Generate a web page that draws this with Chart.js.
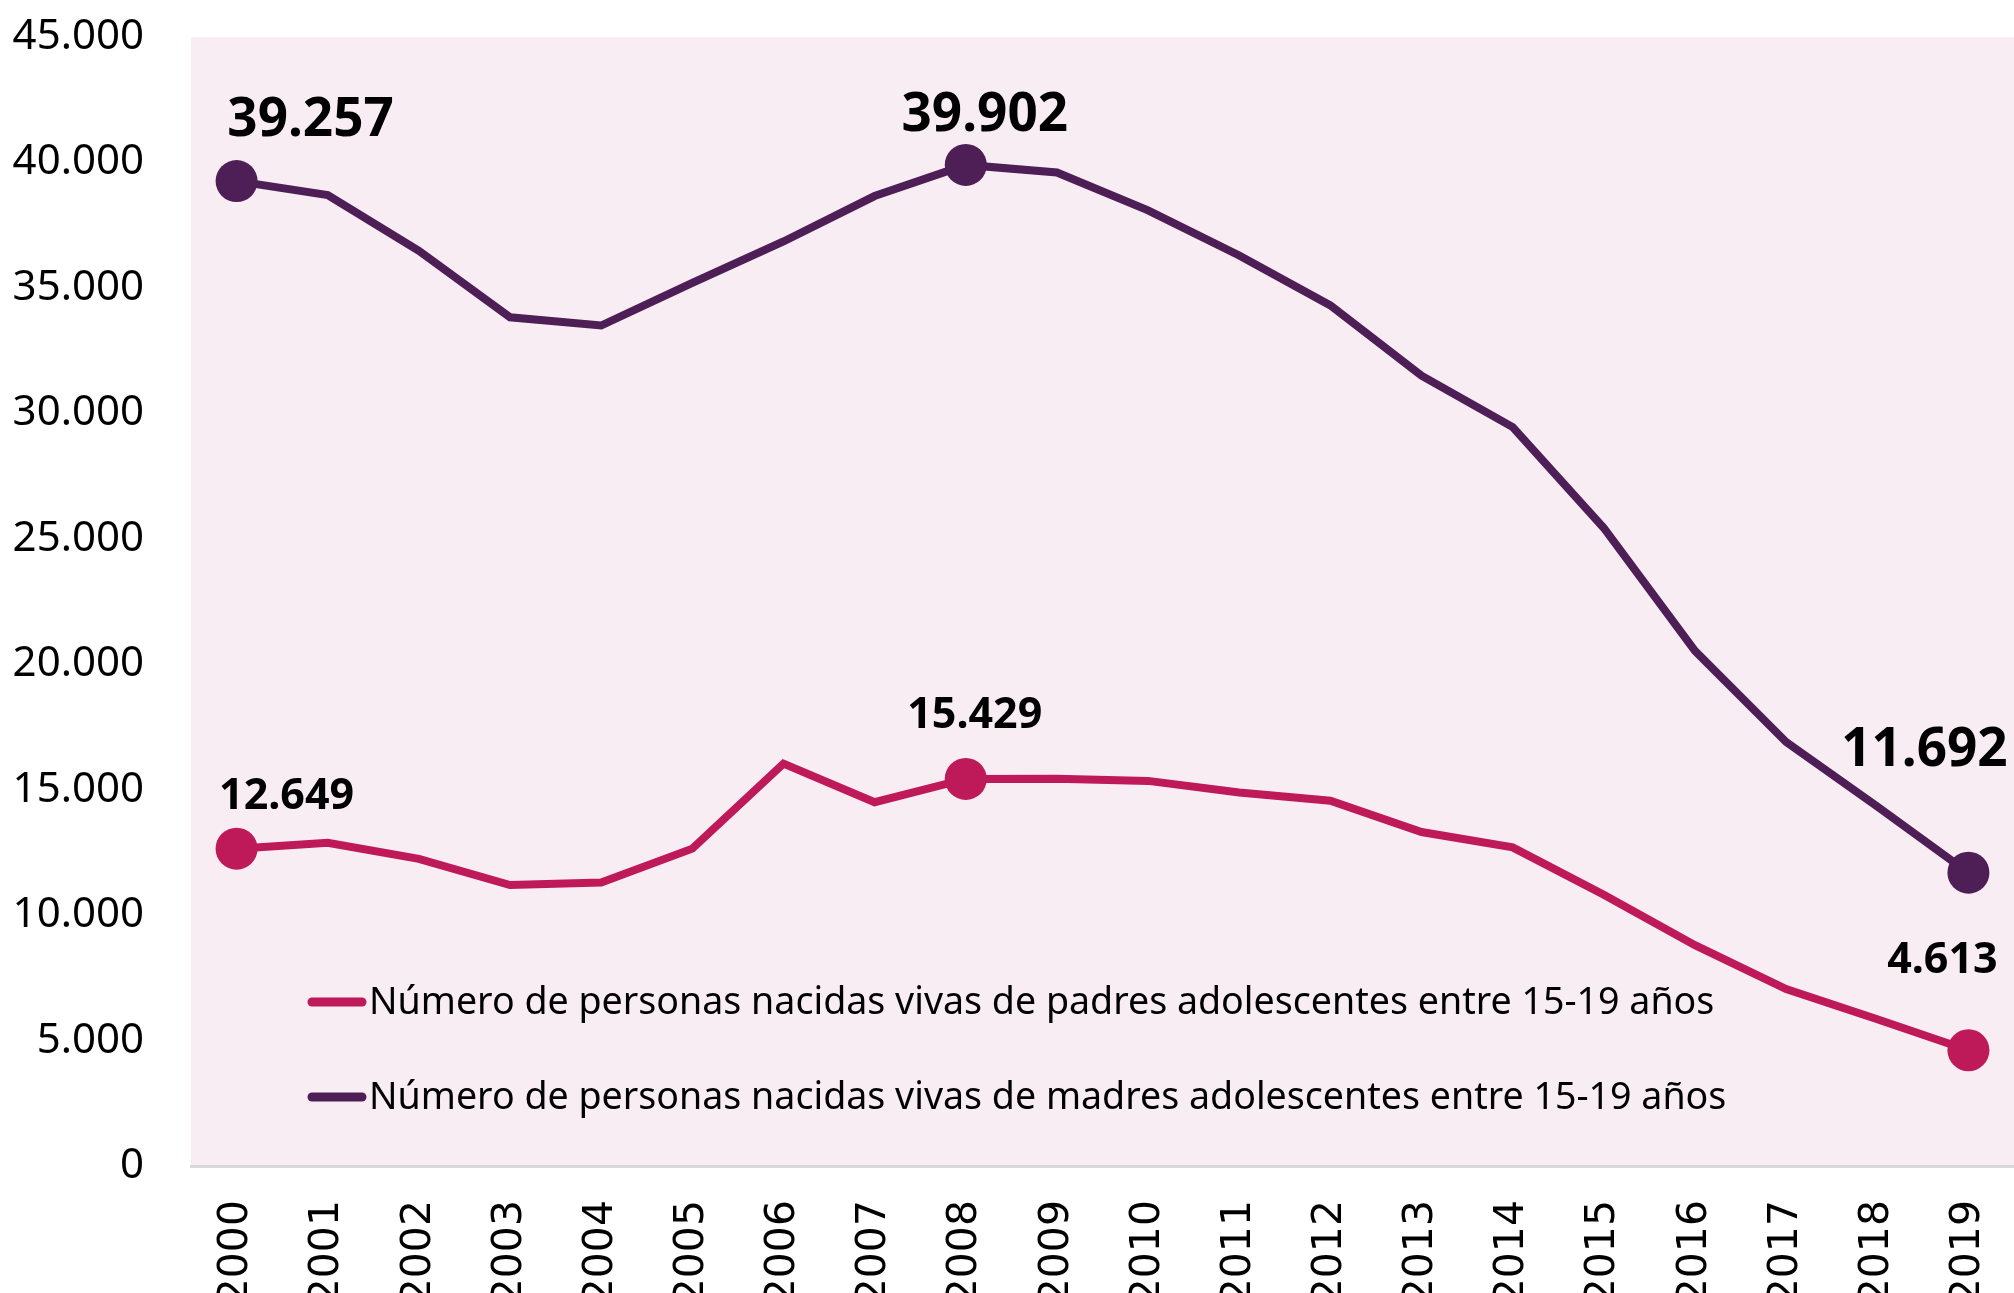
<!DOCTYPE html>
<html>
<head>
<meta charset="utf-8">
<script src="https://cdn.jsdelivr.net/npm/chart.js@4/dist/chart.umd.min.js"></script>
<style>
  html, body { margin: 0; padding: 0; background: #fff; overflow: hidden; }
  #wrap { width: 2014px; height: 1330px; }
</style>
</head>
<body>
<div id="wrap"><canvas id="chart1" width="2014" height="1330"></canvas></div>
<script>
// years on the x axis
const years = ['2000', '2001', '2002', '2003', '2004', '2005', '2006', '2007', '2008', '2009',
               '2010', '2011', '2012', '2013', '2014', '2015', '2016', '2017', '2018', '2019'];

// births to teenage fathers / mothers (15-19)
const padres = [12649, 12880, 12240, 11200, 11300, 12650, 16040, 14500, 15429, 15440,
                15350, 14890, 14560, 13310, 12700, 10810, 8800, 7050, 5850, 4613];
const madres = [39257, 38700, 36480, 33830, 33500, 35200, 36850, 38660, 39902, 39600,
                38090, 36290, 34300, 31500, 29450, 25430, 20530, 16900, 14330, 11692];

const labelPadres = 'Número de personas nacidas vivas de padres adolescentes entre 15-19 años';
const labelMadres = 'Número de personas nacidas vivas de madres adolescentes entre 15-19 años';

const yMax = 45000;
const yStep = 5000;

// points that get a dot and a value label
const marked = [0, 8, 19];

const colPadres = '#BE1A5A';
const colMadres = '#4E1F56';

function fmt(v) {
    return String(v).replace(/\B(?=(\d{3})+(?!\d))/g, '.');
}

function radii(n) {
    let r = [];
    for (let i = 0; i < n; i++) {
        r.push(marked.includes(i) ? 21 : 0);
    }
    return r;
}

// no extra padding from the scales, the layout padding decides
function noPad(axis) {
    axis.paddingTop = 0;
    axis.paddingBottom = 0;
    axis.paddingLeft = 0;
    axis.paddingRight = 0;
}

// pink plot background
const plotBg = {
    id: 'plotBg',
    beforeDraw(chart) {
        const {ctx, chartArea: a} = chart;
        ctx.save();
        ctx.fillStyle = '#F9EDF4';
        ctx.fillRect(a.left, a.top, a.right - a.left, a.bottom - a.top);
        ctx.restore();
    }
};

// value labels next to the marked points
const valueLabels = {
    id: 'valueLabels',
    afterDatasetsDraw(chart) {
        const ctx = chart.ctx;
        // offsets per dataset, per marked index
        const offs = [
            {size: 43, pos: [[50, -52], [9, -63], [-26, -90]]},
            {size: 53, pos: [[74, -60], [19, -49], [-44, -122]]}
        ];
        ctx.save();
        ctx.fillStyle = '#000';
        ctx.textAlign = 'center';
        ctx.textBaseline = 'middle';
        chart.data.datasets.forEach((ds, d) => {
            const meta = chart.getDatasetMeta(d);
            ctx.font = 'bold ' + offs[d].size + 'px "Noto Sans"';
            marked.forEach((idx, k) => {
                const pt = meta.data[idx];
                const o = offs[d].pos[k];
                ctx.fillText(fmt(ds.data[idx]), pt.x + o[0], pt.y + o[1]);
            });
        });
        ctx.restore();
    }
};

// legend drawn inside the plot, lower left
const innerLegend = {
    id: 'innerLegend',
    afterDraw(chart) {
        const ctx = chart.ctx;
        const rows = [1002, 1097];
        ctx.save();
        ctx.font = '37.6px "Noto Sans"';
        ctx.textBaseline = 'middle';
        chart.data.datasets.forEach((ds, d) => {
            const y = rows[d];
            ctx.strokeStyle = ds.borderColor;
            ctx.lineWidth = 9;
            ctx.lineCap = 'round';
            ctx.beginPath();
            ctx.moveTo(312, y);
            ctx.lineTo(362, y);
            ctx.stroke();
            ctx.fillStyle = '#000';
            ctx.fillText(ds.label, 369, y + 1);
        });
        ctx.restore();
    }
};

const ctx = document.getElementById('chart1');
const chart1 = new Chart(ctx, {
    type: 'line',
    data: {
        labels: years,
        datasets: [
            {
                label: labelPadres,
                data: padres,
                borderColor: colPadres,
                backgroundColor: colPadres,
                borderWidth: 8,
                pointRadius: radii(padres.length),
                pointBorderWidth: 0,
                tension: 0
            },
            {
                label: labelMadres,
                data: madres,
                borderColor: colMadres,
                backgroundColor: colMadres,
                borderWidth: 8,
                pointRadius: radii(madres.length),
                pointBorderWidth: 0,
                tension: 0
            }
        ]
    },
    options: {
        responsive: false,
        animation: false,
        layout: {autoPadding: false, padding: {top: 37, right: 0, bottom: 0, left: 0}},
        plugins: {
            legend: {display: false},
            tooltip: {enabled: false}
        },
        scales: {
            x: {
                offset: true,
                grid: {display: false, drawTicks: false},
                border: {display: true, color: '#D9D9D9', width: 3},
                ticks: {
                    autoSkip: false,
                    minRotation: 90,
                    maxRotation: 90,
                    padding: 34,
                    color: '#000',
                    font: {family: '"DejaVu Sans"', size: 41}
                },
                afterFit(axis) {
                    axis.height = 164;
                    noPad(axis);
                }
            },
            y: {
                min: 0,
                max: yMax,
                grid: {display: false, drawTicks: false},
                border: {display: false},
                ticks: {
                    stepSize: yStep,
                    padding: 47,
                    color: '#000',
                    font: {family: '"Noto Sans"', size: 42},
                    callback: (v) => fmt(v)
                },
                afterFit(axis) {
                    axis.width = 191;
                    noPad(axis);
                }
            }
        }
    },
    plugins: [plotBg, valueLabels, innerLegend]
});
</script>
</body>
</html>
